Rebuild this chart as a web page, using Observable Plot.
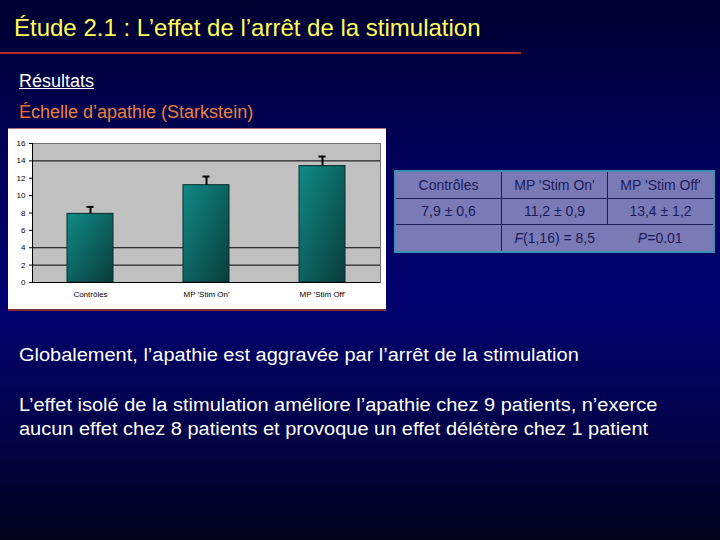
<!DOCTYPE html>
<html>
<head>
<meta charset="utf-8">
<script src="https://cdn.jsdelivr.net/npm/d3@7"></script>
<script src="https://cdn.jsdelivr.net/npm/@observablehq/plot@0.6"></script>
<style>
  html, body { margin: 0; padding: 0; }
  body {
    width: 720px; height: 540px; overflow: hidden; position: relative;
    background: linear-gradient(to bottom, #000030 0%, #00005a 30%, #000070 55%, #020248 80%, #03031c 100%);
    font-family: "Liberation Sans", Arial, sans-serif;
  }
  .abs { position: absolute; white-space: nowrap; }
  #title { left: 14px; top: 14px; font-size: 24px; color: #ffff55; }
  #rule { left: 0; top: 52px; width: 521px; height: 2px; background: #b52a2a; }
  #res { left: 19px; top: 71px; font-size: 18px; color: #ffffff; text-decoration: underline; }
  #scale { left: 19px; top: 102px; font-size: 18px; color: #e8803e; }
  #scale span { color: #f26a2a; }
  #chart { left: 8px; top: 128px; width: 378px; height: 180px; background: #ffffff; border-top: 1px solid #b46a74; border-bottom: 2px solid #8a2a3a; }
  #chart svg { display: block; }
  #tbl { left: 394px; top: 170px; border-collapse: collapse; border: 2px solid #3b8fb4; background: #7a7ab6; color: #1a1a5a; font-size: 14px; }
  #tbl td { border: 1px solid #1c1c5a; text-align: center; height: 25.5px; padding: 0; }
  #tbl td.c1, #tbl td.c2, #tbl td.c3 { width: 105px; }
  #tbl td.nob { border-left: none; }
  #tbl td.nor { border-right: none; }
  .body { font-size: 18px; color: #ffffff; transform: scaleX(1.11); transform-origin: 0 0; }
  #g1 { left: 19px; top: 345px; }
  #g2 { left: 19px; top: 393px; line-height: 24px; }
</style>
</head>
<body>
<div class="abs" id="title">Étude 2.1 : L’effet de l’arrêt de la stimulation</div>
<div class="abs" id="rule"></div>
<div class="abs" id="res">Résultats</div>
<div class="abs" id="scale"><span>É</span>chelle d’apathie (Starkstein)</div>
<div class="abs" id="chart"></div>
<table class="abs" id="tbl"></table>
<div class="abs body" id="g1">Globalement, l’apathie est aggravée par l’arrêt de la stimulation</div>
<div class="abs body" id="g2">L’effet isolé de la stimulation améliore l’apathie chez 9 patients, n’exerce<br>aucun effet chez 8 patients et provoque un effet délétère chez 1 patient</div>
<script>
// ---- data ----
const categories = ["Contrôles", "MP 'Stim On'", "MP 'Stim Off'"];
const means = [7.9, 11.2, 13.4];
const errors = [0.8, 1.0, 1.1];
const yTicks = [0, 2, 4, 6, 8, 10, 12, 14, 16];
const gridLines = [2, 4, 14];
const tableHeader = ["Contrôles", "MP 'Stim On'", "MP 'Stim Off'"];
const tableValues = ["7,9 ± 0,6", "11,2 ± 0,9", "13,4 ± 1,2"];
const tableStats = ["", "<i>F</i>(1,16) = 8,5", "<i>P</i>=0.01"];

const data = categories.map((c, i) => ({cat: c, mean: means[i], err: errors[i]}));

const chart = Plot.plot({
  width: 378,
  height: 180,
  marginLeft: 24,
  marginRight: 6,
  marginTop: 14,
  marginBottom: 27,
  style: {background: "transparent", fontFamily: "'Liberation Sans', Arial, sans-serif", color: "#000"},
  x: {domain: categories, paddingInner: 0.6, paddingOuter: 0.3, axis: null, label: null},
  y: {domain: [0, 16], axis: null, label: null},
  marks: [
    Plot.frame({fill: "#c0c0c0", stroke: "#707070"}),
    Plot.ruleY(gridLines, {stroke: "#000", strokeWidth: 1}),
    Plot.barY(data, {x: "cat", y: "mean", fill: "url(#barGrad)", stroke: "#062c2c", strokeWidth: 1}),
    Plot.ruleX(data, {x: "cat", y1: "mean", y2: d => d.mean + d.err, stroke: "#000", strokeWidth: 2}),
    Plot.tickY(data, {x: "cat", y: d => d.mean + d.err, stroke: "#000", strokeWidth: 2, insetLeft: 19.5, insetRight: 19.5}),
    Plot.ruleY([0], {stroke: "#000"}),
    Plot.frame({anchor: "left", stroke: "#000"}),
    Plot.axisY({ticks: yTicks, tickSize: 3, tickPadding: 4, fontSize: 8, stroke: "#000", label: null}),
    Plot.axisX({tickSize: 0, tickPadding: 9, fontSize: 8, label: null})
  ]
});

const defs = d3.select(chart).insert("defs", ":first-child");
const grad = defs.append("linearGradient").attr("id", "barGrad")
  .attr("x1", "0").attr("y1", "0").attr("x2", "1").attr("y2", "1");
grad.append("stop").attr("offset", "0%").attr("stop-color", "#108a86");
grad.append("stop").attr("offset", "100%").attr("stop-color", "#093c3a");

document.getElementById("chart").appendChild(chart);

// ---- table ----
const tbl = d3.select("#tbl");
const rows = [tableHeader, tableValues, tableStats];
rows.forEach((r, ri) => {
  const tr = tbl.append("tr");
  r.forEach((v, ci) => {
    const td = tr.append("td").attr("class", "c" + (ci + 1)).html(v);
    if (ri === 2 && ci === 2) td.classed("nob", true);
    if (ri === 2 && ci === 1) td.classed("nor", true);
  });
});
</script>
</body>
</html>
